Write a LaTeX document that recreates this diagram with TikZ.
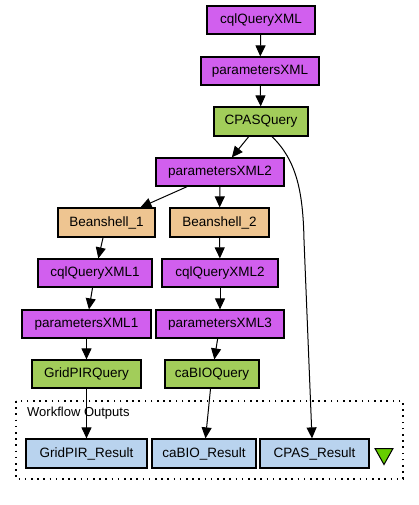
\documentclass[tikz,border=0pt]{standalone}
\usepackage{fontspec}
\setmainfont{Liberation Sans}
\usetikzlibrary{arrows.meta}
\definecolor{xmlc}{HTML}{D15FEE}
\definecolor{wsc}{HTML}{A2CD5A}
\definecolor{bshc}{HTML}{EEC591}
\definecolor{outc}{HTML}{B9D3EE}
\definecolor{tric}{HTML}{66CD00}
\tikzset{
  box/.style={draw=black, line width=1.2pt, inner sep=0pt, minimum height=28pt, font=\fontsize{13.5}{15}\selectfont},
  xmlbox/.style={box, fill=xmlc},
  wsbox/.style={box, fill=wsc},
  bshbox/.style={box, fill=bshc},
  outbox/.style={box, fill=outc, minimum height=29pt},
  conn/.style={line width=1pt, -{Triangle[length=11pt,width=10pt]}},
}
\begin{document}
\begin{tikzpicture}[x=1pt,y=-1pt]
\useasboundingbox (0,0) rectangle (419,505);
% workflow outputs frame
\draw[line width=1.3pt, dash pattern=on 1.6pt off 4.6pt] (16,401) rectangle (403,479);
\node[anchor=west, inner sep=0pt, font=\fontsize{13}{15}\selectfont] (wflabel) at (27,413) {Workflow Outputs};

\node[xmlbox, minimum width=108pt] (cql) at (261,20) {cqlQueryXML};
\node[xmlbox, minimum width=118pt] (par) at (260,71) {parametersXML};
\node[wsbox, minimum width=94pt, minimum height=29pt] (cpas) at (261,121.5) {CPASQuery};
\node[xmlbox, minimum width=128pt] (par2) at (220,172) {parametersXML2};
\node[bshbox, minimum width=97pt, minimum height=29pt] (bs1) at (106.5,222.5) {Beanshell\_1};
\node[bshbox, minimum width=99pt, minimum height=29pt] (bs2) at (219.5,222.5) {Beanshell\_2};
\node[xmlbox, minimum width=114pt] (cql1) at (95,273) {cqlQueryXML1};
\node[xmlbox, minimum width=116pt] (cql2) at (220,273) {cqlQueryXML2};
\node[xmlbox, minimum width=129pt] (par1) at (86.5,324) {parametersXML1};
\node[xmlbox, minimum width=128pt] (par3) at (220,324) {parametersXML3};
\node[wsbox, minimum width=109pt] (grid) at (86.5,374) {GridPIRQuery};
\node[wsbox, minimum width=94pt] (cabio) at (212,374) {caBIOQuery};
\node[outbox, minimum width=121pt] (res1) at (86.5,453.5) {GridPIR\_Result};
\node[outbox, minimum width=104pt] (res2) at (204,453.5) {caBIO\_Result};
\node[outbox, minimum width=109pt] (res3) at (314.5,453.5) {CPAS\_Result};
\draw[fill=tric, line width=1pt, line join=miter] (375,448.5) -- (393,448.5) -- (384,464.5) -- cycle;

\draw[conn] (cql) -- (par);
\draw[conn] (par) -- (cpas);
\draw[conn] (cpas) -- (par2);
\draw[conn] (par2) -- (bs1);
\draw[conn] (par2) -- (bs2);
\draw[conn] (bs1) -- (cql1);
\draw[conn] (bs2) -- (cql2);
\draw[conn] (cql1) -- (par1);
\draw[conn] (cql2) -- (par3);
\draw[conn] (par1) -- (grid);
\draw[conn] (par3) -- (cabio);
\draw[conn] (grid) -- (res1);
\draw[conn] (cabio) -- (res2);
\coordinate (cpasout) at ([xshift=11pt]cpas.south);
\coordinate (bend) at (304,240);
\draw[conn] (cpasout) .. controls (296,160) and (303,190) .. (bend) -- ([xshift=-2.5pt]res3.north);
\end{tikzpicture}
\end{document}
